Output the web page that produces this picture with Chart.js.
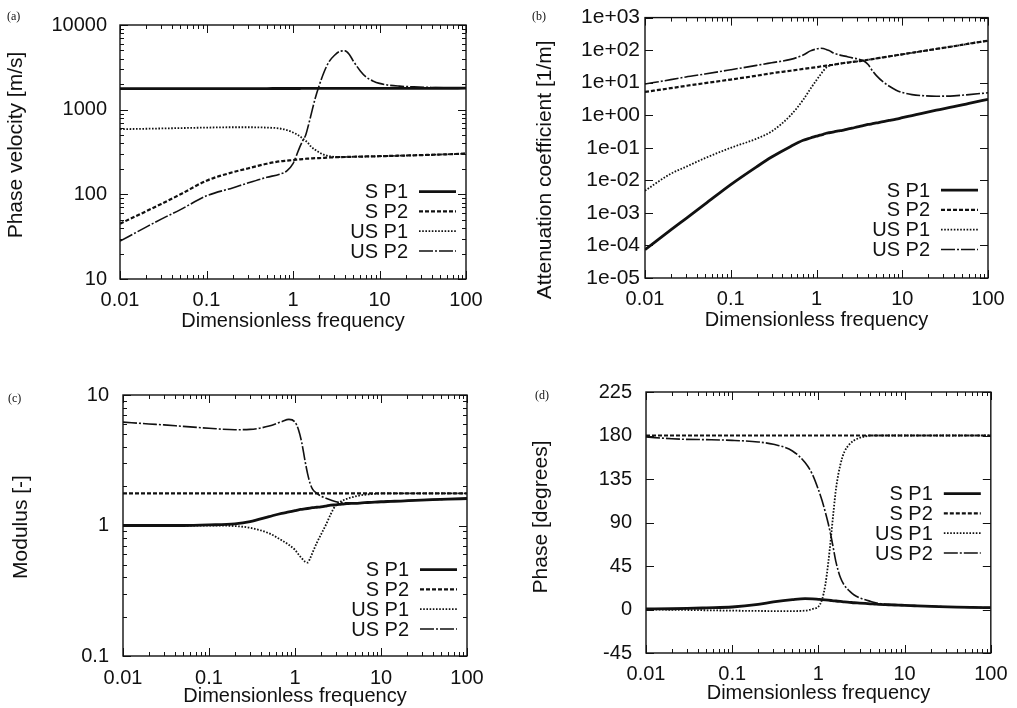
<!DOCTYPE html>
<html><head><meta charset="utf-8">
<script src="https://cdn.jsdelivr.net/npm/chart.js@4.4.1/dist/chart.umd.min.js"></script>
<style>
html,body{margin:0;padding:0;background:#fff;}
#wrap{position:relative;width:1017px;height:708px;overflow:hidden;background:#fff;}
.panel{position:absolute;}
.panel canvas{display:block;}
.lab{position:absolute;font-family:'Liberation Serif','DejaVu Serif',serif;font-size:12px;color:#111;line-height:14px;}
</style></head><body>
<div id="wrap">
  <div class="panel" style="left:0px;top:0px;width:500px;height:340px"><canvas id="ca" width="500" height="340"></canvas></div>
  <div class="panel" style="left:500px;top:0px;width:517px;height:340px"><canvas id="cb" width="517" height="340"></canvas></div>
  <div class="panel" style="left:0px;top:340px;width:500px;height:368px"><canvas id="cc" width="500" height="368"></canvas></div>
  <div class="panel" style="left:500px;top:340px;width:517px;height:368px"><canvas id="cd" width="517" height="368"></canvas></div>
  <div class="lab" style="left:7px;top:9px">(a)</div>
  <div class="lab" style="left:532px;top:9px">(b)</div>
  <div class="lab" style="left:8px;top:391px">(c)</div>
  <div class="lab" style="left:535px;top:388px">(d)</div>
</div>
<script>
// ---------------- data ----------------
const seriesLabels = ['S P1', 'S P2', 'US P1', 'US P2'];
const freq = [0.01,0.02,0.03,0.05,0.1,0.2,0.3,0.5,0.7,0.85,1.0,1.1,1.2,1.3,1.4,1.5,1.6,1.8,2.0,2.3,2.6,3.0,3.5,4.0,4.5,5,6,7,8.5,10,13,17,25,40,60,100];

const xTicks = [0.01, 0.1, 1, 10, 100];
const xTickLabels = ['0.01', '0.1', '1', '10', '100'];

// (a) phase velocity [m/s]
const velSP1  = [1770,1770,1772,1772,1774,1775,1776,1777,1778,1778,1779,1779,1779,1780,1780,1780,1780,1780,1781,1781,1781,1782,1782,1782,1783,1783,1784,1784,1785,1785,1786,1787,1788,1789,1790,1792];
const velSP2  = [45,63,77,100,145,182,202,230,245,250,254,257,259,261,263,264,265,267,268,270,272,274,275,276,277,278,279,280,281,282,284,286,289,293,297,303];
const velUSP1 = [588,595,600,606,614,620,620,614,600,573,538,512,485,455,430,402,370,336,314,292,283,277,276,276,277,278,279,280,281,282,284,286,289,293,297,303];
const velUSP2 = [28,41,51,66,96,119,136,159,173,189,230,290,364,433,500,641,832,1345,1905,2825,3660,4365,4900,4950,4450,3730,2870,2430,2170,2045,1940,1895,1860,1830,1810,1800];
const yTicksA = [10, 100, 1000, 10000];
const yTickLabelsA = ['10', '100', '1000', '10000'];

// (b) attenuation coefficient [1/m]
const attSP1  = [7.4e-5,3.0e-4,6.7e-4,1.85e-3,7.4e-3,0.026,0.052,0.11,0.17,0.20,0.227,0.245,0.26,0.28,0.29,0.30,0.31,0.33,0.345,0.375,0.40,0.44,0.48,0.52,0.55,0.58,0.64,0.69,0.76,0.84,0.98,1.15,1.43,1.83,2.33,3.1];
const attSP2  = [5.2,6.8,8.0,9.7,12.5,16.4,19.5,23.3,26.5,28.5,30,31.5,32.5,33.5,34.5,35,36,38,39.5,41.5,43.5,45,47.9,50.7,53.3,55.7,60.2,64.2,69.6,74.6,83.3,93,109,132,158,195];
const attUSP1 = [4.8e-3,0.016,0.026,0.048,0.1,0.19,0.32,1.0,3.0,6.5,12,17,23,29,33,35,36,38,39.5,41.5,43.5,45,47.9,50.7,53.3,55.7,60.2,64.2,69.6,74.6,83.3,93,109,132,158,195];
const attUSP2 = [9.1,12.4,15,18.5,25,34,41,52,71,95,109,114,113,104,97,88,80,73,68,63,58,54,48,36,23,16.5,10.5,7.9,5.9,5.0,4.3,4.0,3.85,3.95,4.3,4.9];
const yTicksB = [1e-5, 1e-4, 1e-3, 1e-2, 1e-1, 1, 10, 100, 1000];
const yTickLabelsB = ['1e-05', '1e-04', '1e-03', '1e-02', '1e-01', '1e+00', '1e+01', '1e+02', '1e+03'];

// (c) modulus [-]
const modSP1  = [1.0,1.0,1.0,1.0,1.01,1.03,1.07,1.17,1.24,1.27,1.30,1.32,1.33,1.34,1.35,1.36,1.37,1.38,1.39,1.41,1.43,1.44,1.46,1.47,1.48,1.48,1.49,1.50,1.51,1.52,1.53,1.54,1.56,1.58,1.59,1.61];
const modSP2  = [1.76,1.76,1.76,1.76,1.76,1.76,1.76,1.76,1.76,1.76,1.76,1.76,1.76,1.76,1.76,1.76,1.76,1.76,1.76,1.76,1.76,1.76,1.76,1.76,1.76,1.76,1.76,1.76,1.76,1.76,1.76,1.76,1.76,1.76,1.76,1.76];
const modUSP1 = [1.0,1.0,1.0,1.0,1.0,0.99,0.96,0.87,0.77,0.71,0.65,0.60,0.56,0.53,0.52,0.56,0.62,0.74,0.85,1.02,1.22,1.44,1.54,1.60,1.64,1.67,1.71,1.73,1.75,1.76,1.76,1.76,1.76,1.76,1.76,1.76];
const modUSP2 = [6.2,6.0,5.9,5.75,5.56,5.42,5.45,5.78,6.25,6.5,6.2,5.4,4.3,3.2,2.5,2.1,1.9,1.76,1.68,1.62,1.57,1.52,1.50,1.49,1.49,1.49,1.49,1.50,1.51,1.52,1.53,1.54,1.56,1.58,1.59,1.61];
const yTicksC = [0.1, 1, 10];
const yTickLabelsC = ['0.1', '1', '10'];

// (d) phase [degrees]
const phSP1  = [0.5,0.8,1.1,1.7,2.6,5.3,7.8,10.2,11.2,11.0,10.5,10.2,9.9,9.6,9.3,9.0,8.8,8.3,7.8,7.4,7.0,6.7,6.3,5.9,5.6,5.3,5.0,4.8,4.5,4.3,3.9,3.5,3.0,2.5,2.2,1.9];
const phSP2  = [180,180,180,180,180,180,180,180,180,180,180,180,180,180,180,180,180,180,180,180,180,180,180,180,180,180,180,180,180,180,180,180,180,180,180,180];
const phUSP1 = [0,-0.3,-0.5,-0.8,-1.2,-1.5,-1.6,-1.6,-1.2,0.5,3,10,25,48,75,102,125,150,163,171,175,177.5,179,180,180,180,180,180,180,180,180,180,180,180,180,180];
const phUSP2 = [178.4,176.7,176,175.7,175,173.3,170.9,164,152,140,124,113,101,89,76,62,49,33,25,19,15,12,10,8.5,7.2,6.3,5.5,5.1,4.7,4.4,3.9,3.5,3.0,2.5,2.2,1.9];
const yTicksD = [-45, 0, 45, 90, 135, 180, 225];
const yTickLabelsD = ['-45', '0', '45', '90', '135', '180', '225'];

// ---------------- styles ----------------
const FONT = "'Liberation Sans', Arial, Helvetica, sans-serif";
const INK = '#111';
const lineStyles = [
  { w: 2.8, dash: [] },
  { w: 2.2, dash: [4, 2] },
  { w: 1.8, dash: [1.6, 1.6] },
  { w: 1.6, dash: [14, 2, 2, 2] }
];

// frame + inward gnuplot-like tick marks, positioned via the chart's own scales
const framePlugin = {
  id: 'frame',
  afterDraw(chart, args, opts) {
    const { ctx, chartArea: a } = chart;
    const x = chart.scales.x, y = chart.scales.y;
    ctx.save();
    ctx.strokeStyle = INK;
    ctx.setLineDash([]);
    ctx.lineWidth = 1;
    const logVals = (s) => {
      const out = [];
      for (let d = Math.floor(Math.log10(s.min)); d <= Math.ceil(Math.log10(s.max)); d++) {
        for (let k = 1; k <= 9; k++) {
          const v = k * Math.pow(10, d);
          if (v >= s.min * 0.999 && v <= s.max * 1.001) out.push({ v, major: k === 1 });
        }
      }
      return out;
    };
    logVals(x).forEach(t => {
      const px = Math.round(x.getPixelForValue(t.v)) + 0.5;
      const len = t.major ? 8 : 4;
      ctx.beginPath();
      ctx.moveTo(px, a.bottom); ctx.lineTo(px, a.bottom - len);
      ctx.moveTo(px, a.top); ctx.lineTo(px, a.top + len);
      ctx.stroke();
    });
    const yv = opts.yLog ? logVals(y).filter(t => opts.yMinor || t.major)
                         : y.ticks.map(t => ({ v: t.value, major: true }));
    yv.forEach(t => {
      const py = Math.round(y.getPixelForValue(t.v)) + 0.5;
      const len = t.major ? 8 : 4;
      ctx.beginPath();
      ctx.moveTo(a.left, py); ctx.lineTo(a.left + len, py);
      ctx.moveTo(a.right, py); ctx.lineTo(a.right - len, py);
      ctx.stroke();
    });
    ctx.lineWidth = 1.4;
    ctx.strokeRect(a.left, a.top, a.right - a.left, a.bottom - a.top);
    ctx.restore();
  }
};

// rotated y-axis title, centred a little off the plot middle like the original
const yTitlePlugin = {
  id: 'yTitle',
  afterDraw(chart, args, opts) {
    const { ctx, chartArea: a } = chart;
    ctx.save();
    ctx.font = opts.size + 'px ' + FONT;
    ctx.fillStyle = INK;
    ctx.textAlign = 'center';
    ctx.textBaseline = 'middle';
    ctx.translate(opts.x, (a.top + a.bottom) / 2 + opts.shift);
    ctx.rotate(-Math.PI / 2);
    ctx.fillText(opts.text, 0, 0);
    ctx.restore();
  }
};

// gnuplot-style key inside the plot (text right-aligned, sample to its right)
const keyPlugin = {
  id: 'insideKey',
  afterDraw(chart, args, opts) {
    const { ctx, chartArea: a } = chart;
    const ds = chart.data.datasets;
    const n = ds.length;
    ctx.save();
    ctx.font = '20px ' + FONT;
    ctx.textAlign = 'right';
    ctx.textBaseline = 'middle';
    ctx.fillStyle = INK;
    ctx.strokeStyle = INK;
    ds.forEach((d, i) => {
      const yy = a.bottom - opts.bottomGap - (n - 1 - i) * opts.rowGap;
      ctx.fillText(d.label, a.right - opts.textGap, yy + 1);
      ctx.beginPath();
      ctx.setLineDash(d.borderDash || []);
      ctx.lineWidth = d.borderWidth;
      ctx.moveTo(a.right - opts.lineStart, yy);
      ctx.lineTo(a.right - opts.lineEnd, yy);
      ctx.stroke();
    });
    ctx.restore();
  }
};

function makeChart(id, c) {
  const datasets = c.series.map((s, i) => ({
    label: seriesLabels[i],
    data: freq.map((f, j) => ({ x: f, y: s[j] })),
    borderColor: INK,
    borderWidth: lineStyles[i].w,
    borderDash: lineStyles[i].dash,
    pointRadius: 0,
    fill: false,
    cubicInterpolationMode: 'monotone',
    borderCapStyle: 'butt'
  }));
  return new Chart(document.getElementById(id), {
    type: 'line',
    data: { datasets },
    options: {
      responsive: false,
      animation: false,
      devicePixelRatio: 1,
      layout: { padding: { top: c.padTop, right: c.padRight, left: 0, bottom: 0 } },
      plugins: {
        legend: { display: false },
        tooltip: { enabled: false },
        frame: { yLog: c.yLog, yMinor: c.yMinor },
        yTitle: { text: c.yTitle, x: c.yTitleX, shift: c.yTitleShift, size: c.yTitleSize },
        insideKey: { bottomGap: c.keyBottom, rowGap: 19.8, textGap: 58, lineStart: 47, lineEnd: 10 }
      },
      scales: {
        x: {
          type: 'logarithmic', min: 0.01, max: 100,
          afterBuildTicks: (s) => { s.ticks = xTicks.map(v => ({ value: v })); },
          afterFit: (s) => { s.height = c.xAxisH; },
          grid: { display: false, drawTicks: false },
          border: { display: false },
          ticks: {
            padding: c.xTickPad, autoSkip: false, maxRotation: 0, color: INK,
            font: { family: FONT, size: 20 },
            callback: (v, i) => xTickLabels[i]
          },
          title: {
            display: true, text: 'Dimensionless frequency', color: INK,
            font: { family: FONT, size: 20 },
            padding: { top: 0, bottom: c.xTitlePad }
          }
        },
        y: {
          type: c.yLog ? 'logarithmic' : 'linear',
          min: c.yTicks[0], max: c.yTicks[c.yTicks.length - 1],
          afterBuildTicks: (s) => { s.ticks = c.yTicks.map(v => ({ value: v })); },
          afterFit: (s) => { s.width = c.yAxisW; },
          grid: { display: false, drawTicks: false },
          border: { display: false },
          ticks: {
            padding: c.yTickPad, autoSkip: false, color: INK,
            font: { family: FONT, size: c.yTickSize },
            callback: (v, i) => c.yTickLabels[i]
          },
          title: { display: false }
        }
      }
    },
    plugins: [framePlugin, yTitlePlugin, keyPlugin]
  });
}

makeChart('ca', {
  series: [velSP1, velSP2, velUSP1, velUSP2],
  yLog: true, yMinor: true, yTicks: yTicksA, yTickLabels: yTickLabelsA, yTickSize: 20,
  yTitle: 'Phase velocity [m/s]', yTitleX: 16.5, yTitleShift: -7, yTitleSize: 21,
  padTop: 15, padRight: 34, yAxisW: 120, xAxisH: 61,
  xTickPad: 9, xTitlePad: 7, yTickPad: 13, keyBottom: 28
});
makeChart('cb', {
  series: [attSP1, attSP2, attUSP1, attUSP2],
  yLog: true, yMinor: false, yTicks: yTicksB, yTickLabels: yTickLabelsB, yTickSize: 21,
  yTitle: 'Attenuation coefficient [1/m]', yTitleX: 45, yTitleShift: 22, yTitleSize: 21,
  padTop: 15, padRight: 29, yAxisW: 145, xAxisH: 62,
  xTickPad: 9.5, xTitlePad: 8, yTickPad: 5, keyBottom: 28.5
});
makeChart('cc', {
  series: [modSP1, modSP2, modUSP1, modUSP2],
  yLog: true, yMinor: true, yTicks: yTicksC, yTickLabels: yTickLabelsC, yTickSize: 20,
  yTitle: 'Modulus [-]', yTitleX: 21, yTitleShift: 1.5, yTitleSize: 21,
  padTop: 55, padRight: 33, yAxisW: 123, xAxisH: 52,
  xTickPad: 10, xTitlePad: 0, yTickPad: 14, keyBottom: 27
});
makeChart('cd', {
  series: [phSP1, phSP2, phUSP1, phUSP2],
  yLog: false, yMinor: false, yTicks: yTicksD, yTickLabels: yTickLabelsD, yTickSize: 20,
  yTitle: 'Phase [degrees]', yTitleX: 41, yTitleShift: -5.5, yTitleSize: 21,
  padTop: 52, padRight: 26, yAxisW: 146, xAxisH: 55,
  xTickPad: 9.5, xTitlePad: 3, yTickPad: 14, keyBottom: 100
});
</script>
</body></html>
